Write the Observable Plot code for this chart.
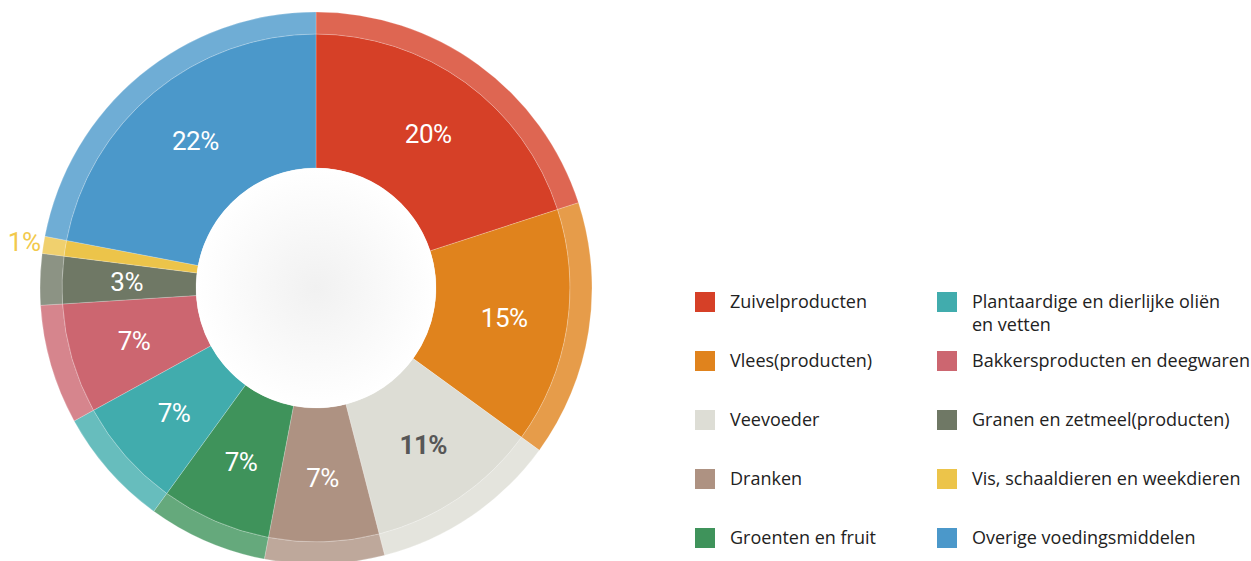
<!DOCTYPE html>
<html>
<head>
<meta charset="utf-8">
<script src="https://cdn.jsdelivr.net/npm/d3@7"></script>
<script src="https://cdn.jsdelivr.net/npm/@observablehq/plot@0.6"></script>
<style>
  html, body { margin: 0; padding: 0; background: #fff; }
  #wrap { position: relative; width: 1251px; height: 561px; overflow: hidden; }
  #wrap svg { position: absolute; left: 0; top: 0; }
  #legend { position: absolute; left: 695px; top: 292px; font-family: "Open Sans", "Lato", sans-serif; font-size: 18px; color: #222; }
  .item { position: absolute; width: 330px; }
  .sw { position: absolute; left: 0; top: 0; width: 20px; height: 20px; }
  .lab { position: absolute; left: 35px; top: -2px; line-height: 23px; white-space: nowrap; }
</style>
</head>
<body>
<div id="wrap"></div>
<script>
const categories = [
  "Zuivelproducten",
  "Vlees(producten)",
  "Veevoeder",
  "Dranken",
  "Groenten en fruit",
  "Plantaardige en dierlijke oliën\nen vetten",
  "Bakkersproducten en deegwaren",
  "Granen en zetmeel(producten)",
  "Vis, schaaldieren en weekdieren",
  "Overige voedingsmiddelen"
];
const values = [20, 15, 11, 7, 7, 7, 7, 3, 1, 22];
const labels = ["20%", "15%", "11%", "7%", "7%", "7%", "7%", "3%", "1%", "22%"];
const colors = ["#d64027", "#e0831d", "#ddddd5", "#ae9282", "#3f935b", "#41acad", "#cc6670", "#6f7865", "#ecc44a", "#4b98ca"];
const labelColors = ["#ffffff", "#ffffff", "#575757", "#ffffff", "#ffffff", "#ffffff", "#ffffff", "#ffffff", "#f2c94c", "#ffffff"];
const labelWeights = [400, 400, 700, 400, 400, 400, 400, 400, 400, 400];
const outside = [false, false, false, false, false, false, false, false, true, false];

const W = 1251, H = 561;
const CX = 316, CY = 288, R = 276;        // layout: centre and outer radius in px
const ringInner = 254 / R, hole = 120 / R, labelR = 190 / R, outerLabelR = 296 / R;

const pie = d3.pie().sort(null).value(d => d.value).startAngle(0).endAngle(2 * Math.PI);
const data = categories.map((c, i) => ({
  category: c, value: values[i], label: labels[i], color: colors[i],
  labelColor: labelColors[i], weight: labelWeights[i], outside: outside[i]
}));
const arcs = pie(data);
const labelData = arcs.map(a => {
  const mid = (a.startAngle + a.endAngle) / 2;
  const r = a.data.outside ? outerLabelR : labelR;
  return { ...a.data, x: r * Math.sin(mid), y: r * Math.cos(mid) };
});

function donut(index, scales) {
  const cx = scales.x(0), cy = scales.y(0);
  const k = scales.x(1) - scales.x(0);
  const g = d3.create("svg:g").attr("transform", `translate(${cx},${cy})`);
  const defs = g.append("defs");
  const grad = defs.append("radialGradient").attr("id", "holeGrad");
  grad.append("stop").attr("offset", "0%").attr("stop-color", "#f1f1f1");
  grad.append("stop").attr("offset", "100%").attr("stop-color", "#ffffff");
  const inner = d3.arc().innerRadius(hole * k).outerRadius(ringInner * k);
  const ring = d3.arc().innerRadius(ringInner * k).outerRadius(k);
  g.selectAll("path.in").data(arcs).join("path")
    .attr("d", inner).attr("fill", d => d.data.color)
    .attr("stroke", "#ffffff").attr("stroke-opacity", 0.35).attr("stroke-width", 0.6);
  g.selectAll("path.ring").data(arcs).join("path")
    .attr("d", ring).attr("fill", d => d.data.color).attr("fill-opacity", 0.8)
    .attr("stroke", "#ffffff").attr("stroke-opacity", 0.35).attr("stroke-width", 0.6);
  g.append("circle").attr("r", hole * k).attr("fill", "url(#holeGrad)");
  return g.node();
}

const chart = Plot.plot({
  width: W, height: H,
  margin: 0,
  x: { domain: [-CX / R, (W - CX) / R], axis: null },
  y: { domain: [-(H - CY) / R, CY / R], axis: null },
  marks: [
    donut,
    Plot.text(labelData, {
      x: "x", y: "y", text: "label", fill: "labelColor",
      fontSize: 26,
      fontFamily: "Roboto, 'DejaVu Sans Condensed', sans-serif",
      textAnchor: "middle", lineAnchor: "middle"
    })
  ]
});

const wrap = document.getElementById("wrap");
wrap.appendChild(chart);

// per-label weight (text elements are in data order)
const texts = chart.querySelectorAll("g[aria-label='text'] text");
texts.forEach((t, i) => { t.setAttribute("font-weight", labelData[i].weight); t.style.letterSpacing = "-0.5px"; });

// legend
const legend = document.createElement("div");
legend.id = "legend";
categories.forEach((c, i) => {
  const row = i % 5, col = i < 5 ? 0 : 1;
  const item = document.createElement("div");
  item.className = "item";
  item.style.left = (col * 242) + "px";
  item.style.top = (row * 59) + "px";
  const sw = document.createElement("div");
  sw.className = "sw"; sw.style.background = colors[i];
  const lab = document.createElement("div");
  lab.className = "lab";
  lab.innerHTML = c.split("\n").join("<br>");
  item.appendChild(sw); item.appendChild(lab);
  legend.appendChild(item);
});
wrap.appendChild(legend);
</script>
</body>
</html>
